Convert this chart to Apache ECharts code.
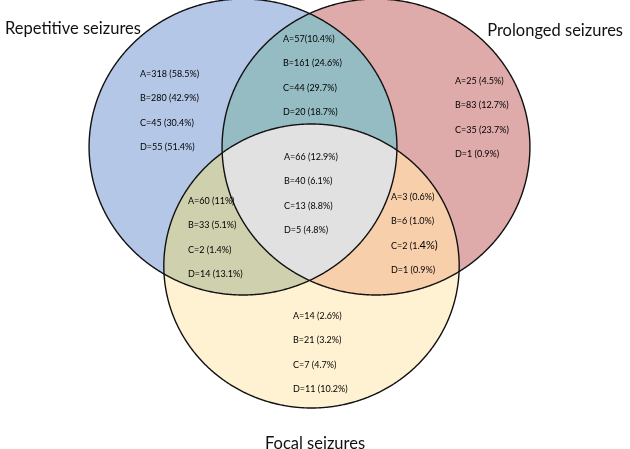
<!DOCTYPE html>
<html>
<head>
<meta charset="utf-8">
<script src="https://cdn.jsdelivr.net/npm/echarts@6/dist/echarts.min.js"></script>
<style>
  html, body { margin: 0; padding: 0; background: #fff; }
  #chart { width: 630px; height: 449px; }
</style>
</head>
<body>
<div id="chart"></div>
<script>
// set names (titles)
const setNames = ['Repetitive seizures', 'Prolonged seizures', 'Focal seizures'];

// counts per region, groups A-D
const repetitiveOnly = ['A=318 (58.5%)', 'B=280 (42.9%)', 'C=45 (30.4%)', 'D=55 (51.4%)'];
const prolongedOnly = ['A=25 (4.5%)', 'B=83 (12.7%)', 'C=35 (23.7%)', 'D=1 (0.9%)'];
const focalOnly = ['A=14 (2.6%)', 'B=21 (3.2%)', 'C=7 (4.7%)', 'D=11 (10.2%)'];
const repetitiveProlonged = ['A=57(10.4%)', 'B=161 (24.6%)', 'C=44 (29.7%)', 'D=20 (18.7%)'];
const repetitiveFocal = ['A=60 (11%)', 'B=33 (5.1%)', 'C=2 (1.4%)', 'D=14 (13.1%)'];
const prolongedFocal = ['A=3 (0.6%)', 'B=6 (1.0%)', 'C=2 (1.4%)', 'D=1 (0.9%)'];
const allThree = ['A=66 (12.9%)', 'B=40 (6.1%)', 'C=13 (8.8%)', 'D=5 (4.8%)'];

// layout: circle centres / radius (x is stretched a bit, like the original)
const STRETCH = 1.04;
const circles = [
  { cx: 243, cy: 147, r: 148 },   // repetitive
  { cx: 376, cy: 147, r: 148 },   // prolonged
  { cx: 311.5, cy: 266, r: 142 }  // focal
];

// regions: which circles they are inside, fill colour, label anchor, label lines
const regions = [
  { sets: [0], color: '#b4c7e7', pos: [140, 74], lines: repetitiveOnly },
  { sets: [1], color: '#dfaaaa', pos: [455, 81], lines: prolongedOnly },
  { sets: [2], color: '#fff2d2', pos: [293, 316], lines: focalOnly },
  { sets: [0, 1], color: '#95bcc3', pos: [283, 39], lines: repetitiveProlonged },
  { sets: [0, 2], color: '#cfd0ad', pos: [188, 201], lines: repetitiveFocal },
  { sets: [1, 2], color: '#f8cfab', pos: [391, 197], lines: prolongedFocal },
  { sets: [0, 1, 2], color: '#e1e1e1', pos: [284, 157], lines: allThree }
];
const lineGap = 24.4;

function inside(c, x, y) {
  const dx = (x - c.cx) / (c.r * STRETCH);
  const dy = (y - c.cy) / c.r;
  return dx * dx + dy * dy <= 1.0005;
}

function regionPoints(sets) {
  const pts = [];
  const N = 900;
  sets.forEach(function (i) {
    const c = circles[i];
    for (let k = 0; k < N; k++) {
      const a = (k / N) * Math.PI * 2;
      const x = c.cx + c.r * STRETCH * Math.cos(a);
      const y = c.cy + c.r * Math.sin(a);
      let ok = true;
      sets.forEach(function (j) {
        if (j !== i && !inside(circles[j], x, y)) ok = false;
      });
      if (ok) pts.push([x, y]);
    }
  });
  let mx = 0, my = 0;
  pts.forEach(function (p) { mx += p[0]; my += p[1]; });
  mx /= pts.length; my /= pts.length;
  pts.sort(function (p, q) {
    return Math.atan2(p[1] - my, p[0] - mx) - Math.atan2(q[1] - my, q[0] - mx);
  });
  return pts;
}

const chart = echarts.init(document.getElementById('chart'));

const font = 'Lato, "DejaVu Sans", sans-serif';
const titleStyle = { fontSize: 16.5, fontWeight: 'normal', color: '#111', fontFamily: font };

const option = {
  animation: false,
  title: [
    { text: setNames[0], left: 0, top: 15, textStyle: titleStyle },
    { text: setNames[1], right: 2, top: 17, textStyle: titleStyle },
    { text: setNames[2], left: 'center', top: 430, textStyle: titleStyle }
  ],
  grid: { left: 0, right: 0, top: 0, bottom: 0 },
  xAxis: { type: 'value', min: 0, max: 630, show: false },
  yAxis: { type: 'value', min: 0, max: 449, inverse: true, show: false },
  series: [
    {
      // filled regions
      type: 'custom',
      coordinateSystem: 'cartesian2d',
      silent: true,
      data: regions.map(function (r, i) { return [i]; }),
      renderItem: function (params, api) {
        const reg = regions[params.dataIndex];
        const pts = regionPoints(reg.sets).map(function (p) { return api.coord(p); });
        return {
          type: 'polygon',
          shape: { points: pts },
          style: { fill: reg.color, stroke: 'none' }
        };
      },
      z: 1
    },
    {
      // circle outlines
      type: 'custom',
      coordinateSystem: 'cartesian2d',
      silent: true,
      data: circles.map(function (c, i) { return [i]; }),
      renderItem: function (params, api) {
        const pts = regionPoints([params.dataIndex]).map(function (p) { return api.coord(p); });
        return {
          type: 'polygon',
          shape: { points: pts },
          style: { fill: 'none', stroke: '#111', lineWidth: 1.4 }
        };
      },
      z: 2
    },
    {
      // labels
      type: 'custom',
      coordinateSystem: 'cartesian2d',
      silent: true,
      data: regions.map(function (r, i) { return [i]; }),
      renderItem: function (params, api) {
        const reg = regions[params.dataIndex];
        const children = reg.lines.map(function (t, k) {
          const p = api.coord([reg.pos[0], reg.pos[1] + k * lineGap]);
          let text = t;
          let rich = {};
          if (params.dataIndex === 5 && k === 2) {
            // the original has a bigger "4%)" here
            text = '{a|C=2 (1.}{b|4%)}';
            rich = {
              a: { fontSize: 9, fontFamily: font, fill: '#000' },
              b: { fontSize: 11, fontFamily: font, fill: '#000' }
            };
          }
          return {
            type: 'text',
            style: {
              text: text,
              rich: rich,
              x: p[0],
              y: p[1],
              fill: '#000',
              fontSize: 9,
              fontFamily: font,
              fontWeight: 'normal',
              textAlign: 'left',
              textVerticalAlign: 'middle'
            }
          };
        });
        return { type: 'group', children: children };
      },
      z: 3
    }
  ]
};

chart.setOption(option);
</script>
</body>
</html>
